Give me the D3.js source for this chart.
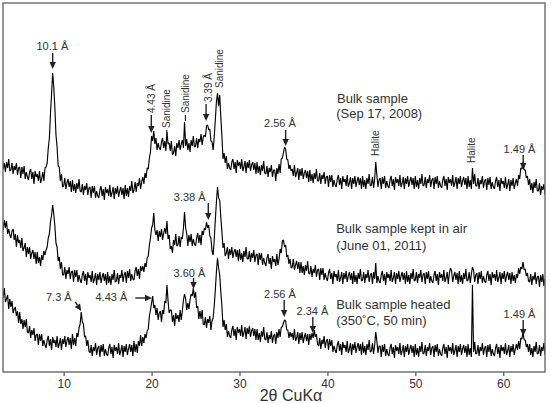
<!DOCTYPE html>
<html><head><meta charset="utf-8">
<script src="https://cdn.jsdelivr.net/npm/d3@7"></script>
<style>body{margin:0;background:#fff}svg{display:block}text{font-family:"Liberation Sans",Arial,sans-serif}</style>
</head><body><svg id="c" width="551" height="403"></svg>
<script>
// scan grid (2θ, degrees): one row per degree, 8 readings per row
const thetaStart = 3.0, thetaStep = 0.125;

// Bulk sample (Sep 17, 2008) – intensities incl. stacking offset
const bulk2008 = [
214,203,209,200,210,204,213,201,
202,209,198,206,202,209,197,204,
205,194,205,198,206,193,200,195,
192,200,203,193,200,188,201,195,
198,191,201,189,193,200,191,204,
205,209,224,234,258,278,299,285,
264,237,225,206,205,191,198,185,
186,194,183,189,193,185,191,180,
192,181,188,179,189,183,193,181,
180,188,177,186,182,189,177,184,
185,174,186,179,186,174,181,176,
174,182,186,176,183,172,185,179,
183,176,187,175,179,185,173,184,
178,186,175,181,185,177,184,173,
187,176,184,175,186,181,191,179,
182,190,180,189,186,194,183,190,
195,188,199,194,204,203,214,220,
236,231,241,228,234,222,229,224,
222,230,234,224,231,221,240,228,
229,221,231,217,219,226,216,229,
224,232,222,228,232,224,250,226,
233,222,229,220,232,226,236,225,
226,234,224,233,230,238,227,235,
237,235,246,247,242,243,231,230,
222,235,252,270,279,266,277,255,
236,213,219,209,216,203,209,204,
202,210,213,203,210,199,212,206,
210,203,213,201,205,211,199,210,
204,212,201,207,210,202,209,198,
210,199,206,197,207,201,211,199,
198,206,195,204,200,207,195,202,
202,191,204,198,208,199,213,214,
219,225,223,213,212,203,207,201,
203,196,207,195,199,204,192,203,
196,204,193,199,202,194,201,190,
202,191,198,189,199,193,203,191,
191,199,188,197,193,200,188,195,
196,185,197,190,197,185,192,187,
185,193,197,187,194,183,196,190,
193,186,197,185,189,195,183,194,
188,196,185,191,195,187,194,183,
196,185,192,183,194,188,198,186,
187,195,184,193,210,197,185,192,
194,183,195,188,196,184,191,186,
184,192,196,186,193,182,195,189,
193,186,197,185,189,195,183,194,
188,196,185,191,195,187,194,183,
196,185,192,183,194,188,198,186,
187,195,184,193,189,197,185,192,
194,183,195,188,196,184,191,186,
184,192,196,186,193,182,195,189,
193,186,197,185,189,195,183,194,
188,196,185,191,195,187,194,183,
196,185,192,183,204,188,198,186,
186,194,183,192,188,196,184,191,
193,182,194,187,195,183,190,185,
183,191,195,185,192,181,194,188,
191,184,195,183,187,193,181,192,
186,194,183,189,193,186,197,193,
204,203,210,202,202,194,196,187,
193,182,189,179,190,184,193,181,
181,189,177,186,182,188,177,184,
182
];

// Bulk sample kept in air (June 01, 2011)
const keptAir2011 = [
154,142,152,144,151,138,143,137,
134,141,143,132,138,125,137,129,
132,124,134,121,124,129,115,125,
118,125,113,119,122,113,120,108,
120,109,115,106,117,112,121,117,
122,125,134,138,150,157,167,158,
146,129,125,111,115,103,110,97,
97,105,93,102,98,105,93,100,
101,90,102,95,102,90,97,92,
89,97,101,91,98,87,100,94,
97,90,101,89,93,99,87,98,
92,100,89,95,99,91,98,87,
100,89,96,87,98,92,102,90,
91,99,88,97,94,102,90,97,
100,89,101,94,103,91,98,93,
92,101,105,96,103,93,106,101,
106,100,109,105,114,116,127,134,
144,147,159,142,137,142,131,141,
135,143,132,139,144,138,151,133,
137,123,126,119,132,127,138,126,
127,136,125,135,133,144,160,144,
138,126,137,130,138,126,133,128,
126,134,139,129,137,127,141,137,
144,142,150,144,147,136,134,121,
117,132,152,170,185,174,172,155,
140,124,129,116,119,125,113,123,
117,125,114,120,123,115,122,111,
123,112,119,110,121,115,125,113,
113,121,110,119,114,122,110,117,
118,107,119,112,119,107,114,109,
106,114,118,108,114,103,116,110,
113,106,118,107,113,123,119,131,
132,125,127,115,117,108,113,104,
105,113,102,107,111,103,110,99,
110,99,106,97,107,101,111,99,
98,106,95,103,99,107,95,102,
103,92,104,97,104,92,99,94,
91,99,103,93,99,88,101,95,
98,91,102,90,94,100,88,99,
93,101,90,96,100,92,99,88,
101,90,97,88,99,93,103,91,
92,100,89,98,94,102,90,97,
99,88,100,93,109,89,96,91,
89,97,101,91,98,87,100,94,
98,91,102,90,94,100,88,99,
93,101,90,96,100,92,99,88,
101,90,97,88,99,93,103,91,
92,100,89,98,94,102,90,97,
99,88,100,93,101,89,96,91,
89,97,101,91,98,87,100,94,
98,91,102,90,94,100,88,99,
104,101,90,96,100,92,99,88,
101,90,97,88,99,93,103,91,
92,100,89,98,105,102,90,97,
99,88,100,93,101,89,96,91,
89,97,101,91,98,87,100,94,
98,91,102,90,94,100,88,99,
93,101,90,96,100,92,99,88,
100,91,97,89,98,94,104,98,
105,103,110,102,103,96,99,91,
90,98,87,96,92,100,88,95,
96,85,97,90,98,86,93,88,
92
];

// Bulk sample heated (350˚C, 50 min)
const heated350 = [
83,74,84,70,73,77,63,73,
65,71,59,63,65,56,61,49,
60,48,53,43,52,45,53,40,
39,46,34,42,37,44,31,37,
38,27,38,31,38,26,32,27,
24,32,36,26,33,22,35,29,
32,25,36,24,28,34,22,33,
28,36,25,31,35,27,34,23,
38,27,34,26,39,35,44,48,
60,50,48,35,36,26,32,21,
19,27,16,25,21,29,17,24,
26,15,27,20,28,16,23,18,
16,24,28,18,25,14,27,21,
25,18,29,17,21,27,15,26,
20,28,17,23,28,20,27,16,
31,20,28,19,31,26,37,26,
35,29,38,34,41,43,56,62,
69,76,64,67,57,64,52,59,
61,50,62,58,71,69,87,71,
59,62,62,50,57,46,59,53,
57,50,62,52,61,72,78,73,
62,69,63,72,78,76,84,74,
80,64,66,53,61,53,62,48,
47,55,44,53,49,56,42,51,
54,66,82,100,114,104,97,80,
66,45,52,42,48,35,41,36,
34,42,46,36,43,32,45,39,
43,36,47,35,39,45,33,44,
38,46,35,41,44,36,43,32,
43,32,39,30,41,35,45,33,
32,40,29,37,33,41,29,36,
38,28,40,34,43,35,45,45,
49,52,51,42,42,34,40,35,
39,32,43,31,34,40,28,39,
32,40,29,35,39,31,38,27,
38,32,39,34,42,35,38,28,
26,34,23,32,28,36,24,31,
33,22,33,26,32,20,26,22,
19,27,31,21,28,17,30,24,
27,20,31,19,23,29,17,28,
22,30,19,25,29,21,28,17,
30,19,26,17,28,22,32,20,
21,29,18,27,40,31,19,26,
26,15,27,20,28,16,23,18,
16,24,28,18,25,14,27,21,
25,18,29,17,21,27,15,26,
20,28,17,23,27,19,26,15,
28,17,24,15,26,20,30,18,
19,27,16,25,21,29,17,24,
26,15,27,20,28,16,23,18,
16,24,28,18,25,14,27,21,
25,18,29,17,21,27,15,26,
20,28,17,23,27,19,26,15,
28,17,24,15,87,20,30,18,
19,27,16,25,21,29,17,24,
26,15,27,20,28,16,23,18,
16,24,28,18,25,14,27,21,
25,18,29,17,21,27,15,26,
20,28,17,23,28,22,31,23,
34,33,40,32,32,25,28,20,
28,17,24,15,26,20,30,18,
19,27,16,25,21,29,17,24,
22
];

const xTicks = [10, 20, 30, 40, 50, 60];
const xTitle = "2θ CuKα";

// sample labels: text, 2θ of start, intensity of baseline
const sampleLabels = [
  {text: "Bulk sample", t: 41.1, v: 269},
  {text: "(Sep 17, 2008)", t: 41.0, v: 254.5},
  {text: "Bulk sample kept in air", t: 41.0, v: 139},
  {text: "(June 01, 2011)", t: 41.0, v: 122},
  {text: "Bulk sample heated", t: 41.0, v: 63},
  {text: "(350˚C, 50 min)", t: 41.0, v: 47}
];

// peak labels: text, position (2θ, intensity), rotated?, pointer [t1,v1,t2,v2], head?
const peakLabels = [
  {text: "10.1 Å", t: 8.72, v: 322, rot: false, p: [8.75, 319, 8.75, 303], head: true},
  {text: "4.43 Å", t: 19.97, v: 259, rot: true, p: [19.97, 257, 19.97, 239], head: true},
  {text: "Sanidine", t: 21.73, v: 244, rot: true, p: [21.73, 242, 21.73, 237], head: false},
  {text: "Sanidine", t: 23.85, v: 259, rot: true, p: [23.85, 257, 23.85, 251], head: false},
  {text: "3.39 Å", t: 26.44, v: 270, rot: true, p: [26.2, 268, 26.2, 251], head: true},
  {text: "Sanidine", t: 27.75, v: 284, rot: true, p: null, head: false},
  {text: "2.56 Å", t: 34.6, v: 245, rot: false, p: [35.25, 242, 35.25, 226], head: true},
  {text: "Halite", t: 45.43, v: 216, rot: true, p: null, head: false},
  {text: "Halite", t: 56.4, v: 209, rot: true, p: null, head: false},
  {text: "1.49 Å", t: 61.85, v: 219, rot: false, p: [62.27, 217, 62.27, 202], head: true},
  {text: "3.38 Å", t: 24.34, v: 171, rot: false, p: [26.45, 169, 26.45, 152], head: true},
  {text: "7.3 Å", t: 9.45, v: 71, rot: false, p: [11.33, 70, 12.0, 61], head: true},
  {text: "4.43 Å", t: 15.43, v: 71, rot: false, p: [18.15, 74, 20.05, 74], head: true},
  {text: "3.60 Å", t: 24.3, v: 95, rot: false, p: [24.77, 94, 24.77, 83], head: true},
  {text: "2.56 Å", t: 34.6, v: 74, rot: false, p: [35.08, 72, 35.08, 55], head: true},
  {text: "2.34 Å", t: 38.3, v: 57, rot: false, p: [38.34, 55, 38.34, 39], head: true},
  {text: "1.49 Å", t: 61.85, v: 54, rot: false, p: [62.27, 52, 62.27, 36], head: true}
];

const svg = d3.select("#c");
const L = 3, R = 545, T = 3, B = 372;
const x = d3.scaleLinear().domain([3.1, 64.75]).range([L, R]);
const y = d3.scaleLinear().domain([0, 369]).range([B, T]);

svg.append("defs").append("clipPath").attr("id", "clip")
  .append("rect").attr("x", L).attr("y", T).attr("width", R - L).attr("height", B - T);

const line = d3.line()
  .x((d, i) => x(thetaStart + i * thetaStep))
  .y(d => y(d));

[bulk2008, keptAir2011, heated350].forEach(s => {
  svg.append("path").datum(s)
    .attr("clip-path", "url(#clip)")
    .attr("fill", "none").attr("stroke", "#000").attr("stroke-width", 1.15)
    .attr("stroke-linejoin", "bevel")
    .attr("d", line);
});

// frame
svg.append("rect").attr("x", L).attr("y", T).attr("width", R - L).attr("height", B - T)
  .attr("fill", "none").attr("stroke", "#6a6a6a").attr("stroke-width", 1.4);

// x axis
const ax = svg.append("g").attr("transform", `translate(0,${B})`)
  .call(d3.axisBottom(x).tickValues(xTicks).tickSize(4).tickSizeOuter(0).tickFormat(d3.format("d")));
ax.select(".domain").remove();
ax.selectAll("line").attr("stroke", "#555").attr("stroke-width", 1.2);
ax.selectAll("text").attr("fill", "#333").attr("font-size", 12)
  .style("font-family", '"Liberation Sans", Arial, sans-serif');

svg.append("text").attr("x", 291).attr("y", 401).attr("text-anchor", "middle")
  .attr("font-size", 16).attr("fill", "#333").text(xTitle);

// sample labels
svg.selectAll("text.sl").data(sampleLabels).join("text").attr("class", "sl")
  .attr("x", d => x(d.t)).attr("y", d => y(d.v))
  .attr("font-size", 13).attr("fill", "#333").text(d => d.text);

// peak labels
peakLabels.forEach(d => {
  if (d.rot) {
    svg.append("text")
      .attr("transform", `translate(${x(d.t)},${y(d.v)}) rotate(-90)`)
      .attr("dy", "0.35em").attr("font-size", 10).attr("fill", "#333")
      .text(d.text);
  } else {
    svg.append("text").attr("x", x(d.t)).attr("y", y(d.v)).attr("text-anchor", "middle")
      .attr("font-size", 11).attr("fill", "#333").text(d.text);
  }
  if (d.p) {
    const x1 = x(d.p[0]), y1 = y(d.p[1]), x2 = x(d.p[2]), y2 = y(d.p[3]);
    if (d.head) {
      const dx = x2 - x1, dy = y2 - y1, len = Math.hypot(dx, dy);
      const ux = dx / len, uy = dy / len, hl = 7, hw = 3.2;
      const bx = x2 - ux * hl, by = y2 - uy * hl;
      svg.append("line").attr("x1", x1).attr("y1", y1).attr("x2", bx).attr("y2", by)
        .attr("stroke", "#222").attr("stroke-width", 1.4);
      svg.append("polygon")
        .attr("points", [[x2, y2], [bx - uy * hw, by + ux * hw], [bx + uy * hw, by - ux * hw]].map(p => p.join(",")).join(" "))
        .attr("fill", "#222");
    } else {
      svg.append("line").attr("x1", x1).attr("y1", y1).attr("x2", x2).attr("y2", y2)
        .attr("stroke", "#222").attr("stroke-width", 1.2);
    }
  }
});
</script></body></html>
